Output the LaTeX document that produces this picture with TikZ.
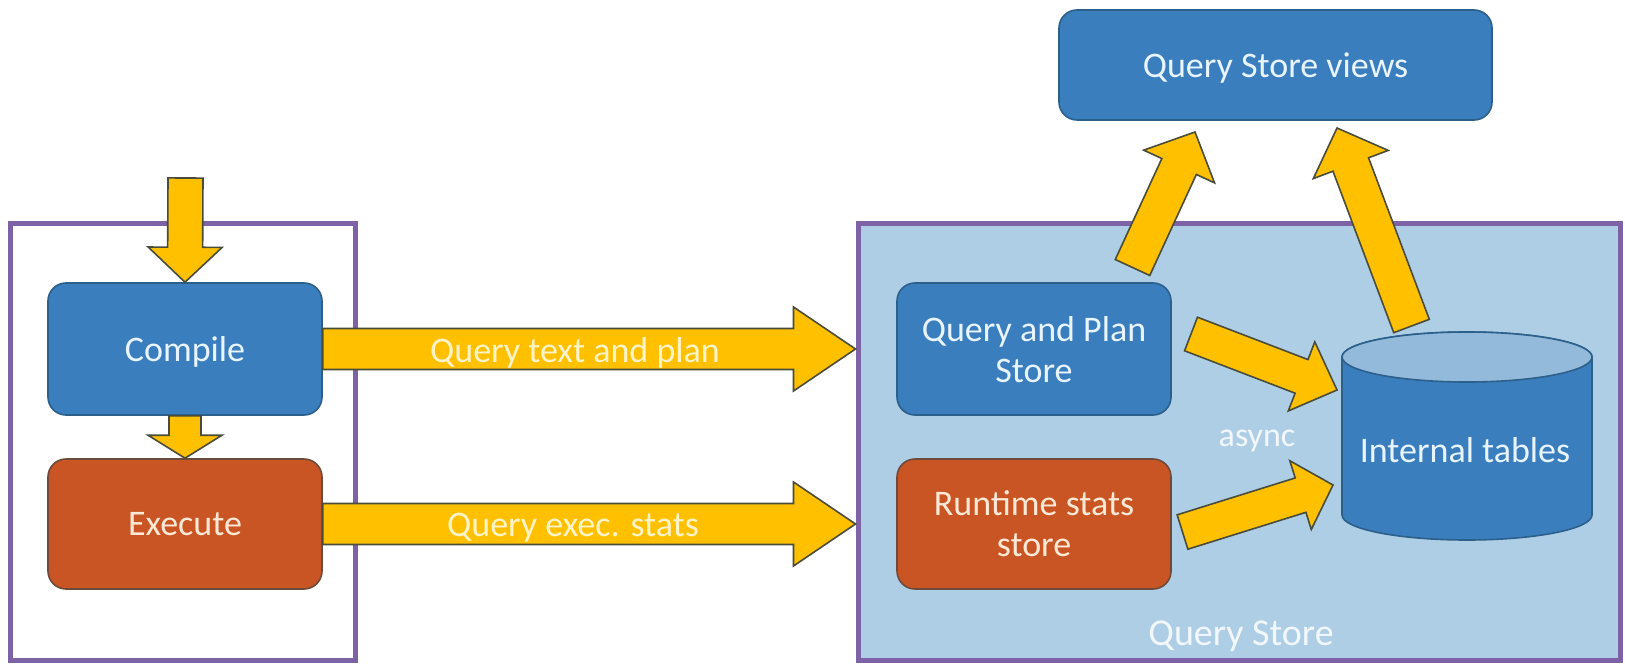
\documentclass[tikz,border=0pt]{standalone}
\usepackage{fontspec}
\setmainfont{Carlito}
\usetikzlibrary{calc}
\definecolor{qblue}{HTML}{3B7EBE}
\definecolor{qblueline}{HTML}{2C5F8A}
\definecolor{qbluetext}{HTML}{E8F4FF}
\definecolor{qorange}{HTML}{C85523}
\definecolor{qorangeline}{HTML}{6E4A3A}
\definecolor{qorangetext}{HTML}{FFE9D6}
\definecolor{qyellow}{HTML}{FFC000}
\definecolor{qyellowline}{HTML}{4A4C3A}
\definecolor{qyellowtext}{HTML}{FFF3C8}
\definecolor{qpurple}{HTML}{7E62A6}
\definecolor{qpanel}{HTML}{AECEE6}
\definecolor{qcyltop}{HTML}{93BADB}
\definecolor{qpaneltext}{HTML}{F2F7FC}
\tikzset{
  box/.style={rounded corners=9pt, line width=0.8pt, minimum width=137pt, minimum height=66pt,
    align=center, font=\fontsize{18}{20.5}\selectfont, inner sep=0pt, text depth=0pt},
  bluebox/.style={box, fill=qblue, draw=qblueline, text=qbluetext},
  orangebox/.style={box, fill=qorange, draw=qorangeline, text=qorangetext},
  frame/.style={draw=qpurple, line width=2.5pt, inner sep=0pt},
  fat/.style={fill=qyellow, draw=qyellowline, line width=0.8pt, line join=miter},
  lbl/.style={font=\fontsize{18}{20.5}\selectfont, inner sep=0pt, text depth=0pt},
}
\newcommand\qsarrow[5]{%
  \coordinate (fah) at ($(#2)!#5!(#1)$);
  \path[fat] ($(#1)!#3!90:(#2)$) -- ($(fah)!#3!90:(#2)$) -- ($(fah)!#4!90:(#2)$) -- (#2)
    -- ($(fah)!#4!-90:(#2)$) -- ($(fah)!#3!-90:(#2)$) -- ($(#1)!#3!-90:(#2)$) -- cycle;
}
\begin{document}
\begin{tikzpicture}[x=0.5pt,y=-0.5pt]
\useasboundingbox[fill=white] (0,0) rectangle (1625,663);
% frames
\node[frame, minimum width=172.5pt, minimum height=218.5pt] (left) at (182.5,441.5) {};
\node[frame, fill=qpanel, minimum width=381pt, minimum height=218.5pt] (qs) at (1239,441.5) {};
% boxes
\node[bluebox] (compile) at (185,349) {Compile};
\node[orangebox, minimum height=65pt] (execute) at (185,524) {Execute};
\node[bluebox] (qp) at (1034,349) {Query and Plan\\Store};
\node[orangebox, minimum height=65pt] (rs) at (1034,524) {Runtime stats\\store};
\node[bluebox, minimum width=216.5pt, minimum height=55pt] (views) at (1275.5,65) {Query Store views};
% arrow end points
\coordinate (entry) at (185.5,178);
\coordinate (t1) at (qs.west |- compile.east);
\coordinate (t2) at (qs.west |- execute.east);
\coordinate (qpout) at (1191,334);
\coordinate (it1) at (1337,390);
\coordinate (rsout) at (1182.5,532);
\coordinate (it2) at (1333,485);
\coordinate (up1) at (1132.5,267.5);
\coordinate (v1) at (1195,132);
\coordinate (up2) at (1411.5,326);
\coordinate (v2) at (1337,128);
% arrows
\qsarrow{entry}{compile.north}{8.75pt}{18.5pt}{17.5pt}
\qsarrow{compile.south}{execute.north}{8pt}{18.5pt}{11.5pt}
\qsarrow{compile.east}{t1}{10.25pt}{21pt}{31pt}
\qsarrow{execute.east}{t2}{10.25pt}{21pt}{31pt}
\qsarrow{qpout}{it1}{9pt}{18.5pt}{19pt}
\qsarrow{rsout}{it2}{9pt}{18pt}{17pt}
\qsarrow{up1}{v1}{9.5pt}{19.5pt}{19pt}
\qsarrow{up2}{v2}{9.5pt}{20pt}{19.5pt}
% arrow labels
\node[lbl, text=qyellowtext] (l1) at (575,350) {Query text and plan};
\node[lbl, text=qyellowtext] (l2) at (573,525) {Query exec. stats};
% cylinder
\filldraw[fill=qblue, draw=qblueline, line width=0.8pt]
  (1342,357) -- (1342,515) arc[start angle=180, end angle=360, x radius=62.5pt, y radius=12.5pt]
  -- (1592,357) arc[start angle=0, end angle=180, x radius=62.5pt, y radius=12.5pt] -- cycle;
\filldraw[fill=qcyltop, draw=qblueline, line width=0.8pt] (1467,357) ellipse [x radius=62.5pt, y radius=12.5pt];
\node[lbl, text=qbluetext] (itab) at (1465,450) {Internal tables};
% other labels
\node[lbl, font=\fontsize{17}{20}\selectfont, text=qpaneltext] (async) at (1257,438) {async};
\node[lbl, font=\fontsize{19}{22}\selectfont, text=qpaneltext] (qslabel) at (1241,633) {Query Store};
\end{tikzpicture}
\end{document}
